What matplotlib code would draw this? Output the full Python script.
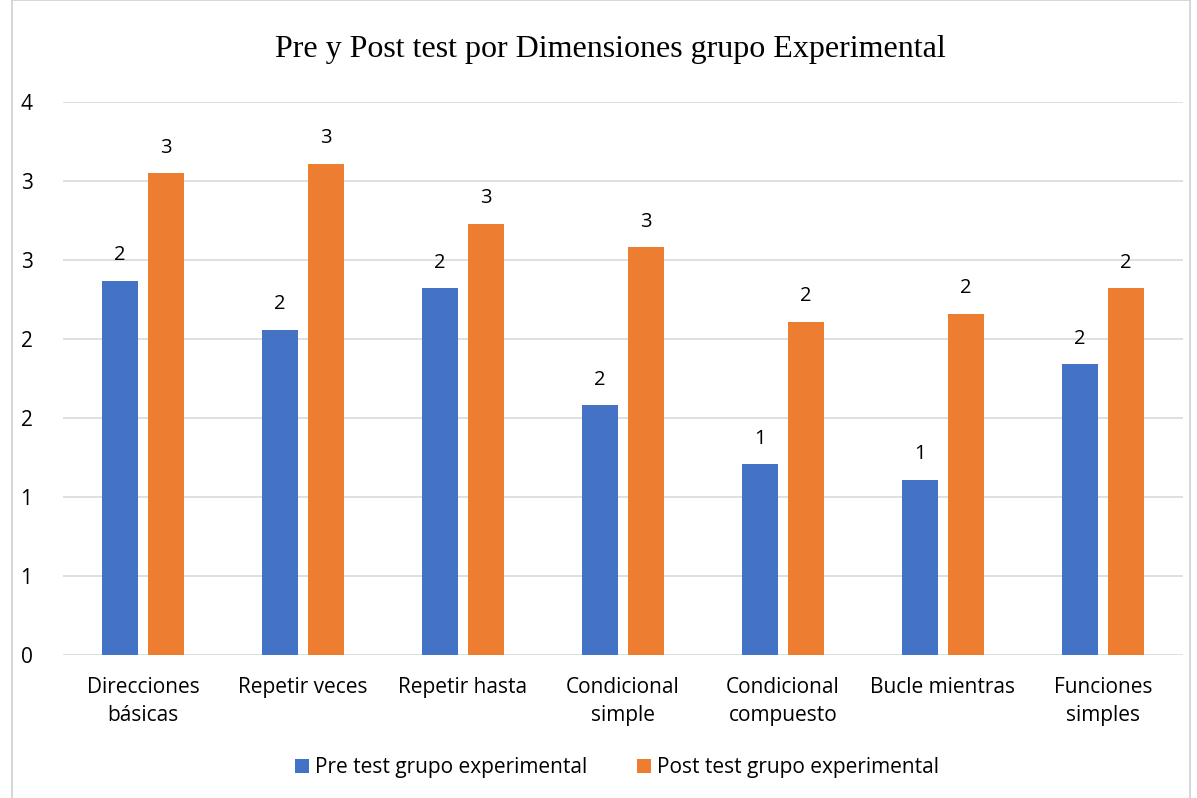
import numpy as np
import matplotlib.pyplot as plt
from matplotlib.patches import Rectangle
from matplotlib.ticker import FuncFormatter

categories = ['Direcciones\nbásicas', 'Repetir veces', 'Repetir hasta',
              'Condicional\nsimple', 'Condicional\ncompuesto', 'Bucle mientras',
              'Funciones\nsimples']
pre_test = [2.37, 2.06, 2.32, 1.58, 1.21, 1.11, 1.84]
post_test = [3.05, 3.11, 2.73, 2.58, 2.11, 2.16, 2.32]
series_names = ['Pre test grupo experimental', 'Post test grupo experimental']

blue = '#4472C4'
orange = '#ED7D31'
sans = ['Open Sans', 'DejaVu Sans']

W, H = 1197, 798
fig = plt.figure(figsize=(W / 100, H / 100), dpi=100)

# chart area border
fig.patches.append(Rectangle((12 / W, -0.01), 1178 / W, 1.01, transform=fig.transFigure,
                             fill=False, edgecolor='#d0d0d0', linewidth=1.2))

ax = fig.add_axes([63 / W, 1 - 655 / H, 1120 / W, 553 / H])

x = np.arange(len(categories))
bw = 0.225
off = 0.145
b1 = ax.bar(x - off, pre_test, bw, color=blue, label=series_names[0], zorder=3)
b2 = ax.bar(x + off, post_test, bw, color=orange, label=series_names[1], zorder=3)

for bars in (b1, b2):
    for r in bars:
        v = r.get_height()
        ax.annotate(f'{v:.0f}', (r.get_x() + r.get_width() / 2, v),
                    xytext=(0, 11), textcoords='offset points',
                    ha='center', va='bottom', fontsize=14.5, family=sans, color='#000000')

ax.set_xlim(-0.5, len(categories) - 0.5)
ax.set_ylim(0, 3.5)
ax.set_yticks(np.arange(0, 3.51, 0.5))
ax.yaxis.set_major_formatter(FuncFormatter(lambda v, p: f'{int(np.floor(v + 0.5))}'))
ax.grid(axis='y', color='#d9d9d9', linewidth=1.2, zorder=0)
ax.set_xticks(x)
ax.set_xticklabels(categories, fontsize=15, family=sans, linespacing=1.4)
for lab in ax.get_yticklabels():
    lab.set_fontsize(15)
    lab.set_family(sans)
ax.tick_params(axis='both', length=0)
ax.tick_params(axis='y', pad=22)
ax.tick_params(axis='x', pad=16)
for s in ax.spines.values():
    s.set_visible(False)

fig.text(610 / W, 1 - 50 / H, 'Pre y Post test por Dimensiones grupo Experimental',
         ha='center', va='center', fontsize=23, family='Liberation Serif')

fig.legend(handles=[b1, b2], loc='center', bbox_to_anchor=(617 / W, 1 - 768 / H),
           ncol=2, frameon=False, prop={'family': 'Open Sans', 'size': 15},
           handlelength=0.65, handleheight=0.65, handletextpad=0.3, columnspacing=2.4)

fig.savefig('out.png', dpi=100)
